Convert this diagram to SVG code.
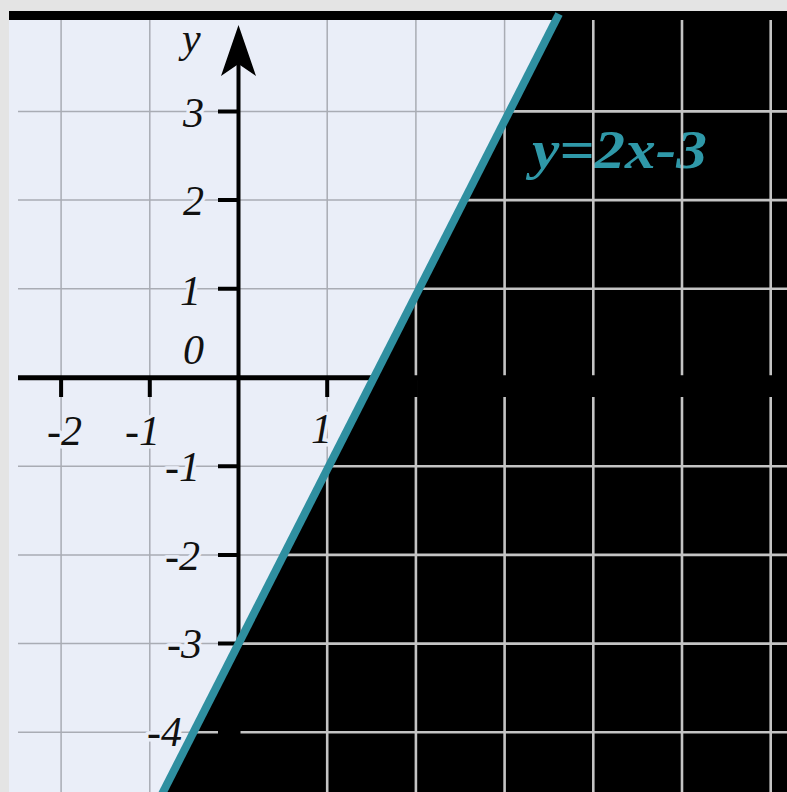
<svg xmlns="http://www.w3.org/2000/svg" width="787" height="792" viewBox="0 0 787 792">
<defs>
<style>
.lg{stroke:#a9acb4;stroke-width:1.5;fill:none}
.dg{stroke:#c4c4c4;stroke-width:2.6;fill:none}
.ax{stroke:#000;fill:none}
.lbl{font-family:"Liberation Serif","Times New Roman",serif;font-style:italic;font-size:42px;fill:#111;stroke:#eaeef8;stroke-width:7;paint-order:stroke;stroke-linejoin:round}
</style>
<clipPath id="blk"><polygon points="556,20 787,20 787,792 163,792"/></clipPath>
</defs>
<g id="frame">
<rect x="0" y="0" width="787" height="792" fill="#e4e4e4"/>
<rect x="9" y="20" width="778" height="772" fill="#eaeef8"/>
<rect x="9" y="11" width="778" height="9" fill="#000"/>
</g>
<g id="light-grid">
<path class="lg" d="M61.1 20V792M149.8 20V792M327.2 20V792M415.9 20V792M504.6 20V792"/>
<path class="lg" d="M18 111.4H787M18 200.1H787M18 288.8H787M18 466.2H787M18 554.9H787M18 643.6H787M18 732.3H787"/>
</g>
<g id="region">
<polygon points="556,20 787,20 787,792 163,792" fill="#000"/>
</g>
<g id="equation">
<text x="532" y="168" font-family="'Liberation Serif','Times New Roman',serif" font-style="italic" font-weight="bold" font-size="54" fill="#2f98a8" textLength="175" lengthAdjust="spacingAndGlyphs">y=2x-3</text>
</g>
<g id="dark-grid" clip-path="url(#blk)">
<path class="dg" d="M327.2 20V792M415.9 20V792M504.6 20V792M593.3 20V792M682 20V792M770.7 20V792"/>
<path class="dg" d="M18 111.4H787M18 200.1H787M18 288.8H787M18 466.2H787M18 554.9H787M18 643.6H787M18 732.3H787"/>
</g>
<g id="axes">
<line class="ax" x1="18" y1="377.8" x2="787" y2="377.8" stroke-width="5"/>
<line class="ax" x1="238.5" y1="60" x2="238.5" y2="792" stroke-width="4"/>
<polygon points="238.5,25 256,76 238.5,64 221,76" fill="#000"/>
<path class="ax" stroke-width="4" d="M61.1 378V397M149.8 378V397M327.2 378V397M415.9 378V397M504.6 378V397M593.3 378V397M682 378V397M770.7 378V397"/>
<path class="ax" stroke-width="4" d="M218 111.4H239M218 200.1H239M218 288.8H239M218 466.2H239M218 554.9H239M218 643.6H239M218 732.3H239"/>
</g>
<g id="graph-line">
<line x1="559" y1="14" x2="160" y2="798" stroke="#2f8fa0" stroke-width="8"/>
</g>
<g id="labels">
<text class="lbl" x="182" y="52">y</text>
<text class="lbl" x="204" y="127" text-anchor="end">3</text>
<text class="lbl" x="204" y="215" text-anchor="end">2</text>
<text class="lbl" x="201" y="305" text-anchor="end">1</text>
<text class="lbl" x="204" y="364" text-anchor="end">0</text>
<text class="lbl" x="82" y="445" text-anchor="end">-2</text>
<text class="lbl" x="160" y="445" text-anchor="end">-1</text>
<text class="lbl" x="332" y="443" text-anchor="end">1</text>
<text class="lbl" x="200" y="481" text-anchor="end">-1</text>
<text class="lbl" x="200" y="570" text-anchor="end">-2</text>
<text class="lbl" x="202" y="658" text-anchor="end">-3</text>
<text class="lbl" x="182" y="746" text-anchor="end">-4</text>
</g>
</svg>
